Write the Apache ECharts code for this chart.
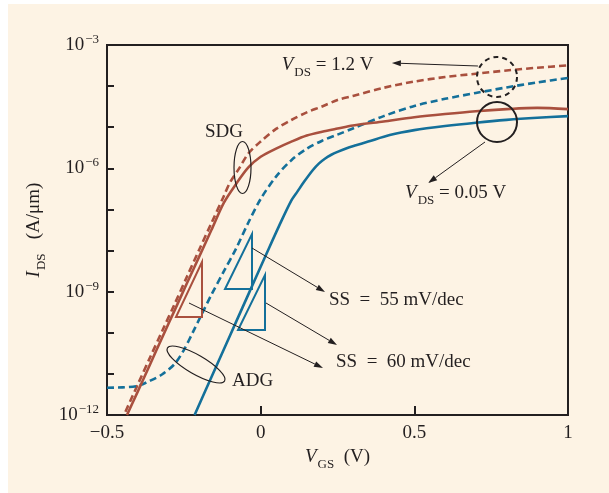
<!DOCTYPE html>
<html>
<head>
<meta charset="utf-8">
<script src="https://cdn.jsdelivr.net/npm/echarts@6/dist/echarts.min.js"></script>
<style>
  html, body { margin: 0; padding: 0; background: #ffffff; }
  #panel { position: absolute; left: 8px; top: 4px; width: 601px; height: 489px; background: #fdf3e4; }
  #chart { position: absolute; left: 0; top: 0; width: 609px; height: 493px; }
</style>
</head>
<body>
<div id="panel"></div>
<div id="chart"></div>
<script>
// Gate voltage V_GS (V) and drain current I_DS (A/µm) for each device / bias

// SDG, V_DS = 0.05 V
const vgsSdgLow = [-0.435, -0.40, -0.36, -0.32, -0.28, -0.24, -0.20, -0.16, -0.12, -0.08, -0.04, 0.00,
  0.05, 0.10, 0.15, 0.20, 0.25, 0.30, 0.40, 0.50, 0.60, 0.70, 0.80, 0.90, 1.00];
const idsSdgLow = [1.0e-12, 3.7e-12, 1.7e-11, 7.8e-11, 3.5e-10, 1.6e-9, 7.1e-9, 3.2e-8, 1.45e-7, 4.17e-7, 1.05e-6, 1.91e-6,
  3.02e-6, 4.47e-6, 6.3e-6, 7.8e-6, 9.3e-6, 1.10e-5, 1.38e-5, 1.74e-5, 2.09e-5, 2.45e-5, 2.75e-5, 2.95e-5, 2.75e-5];

// SDG, V_DS = 1.2 V
const vgsSdgHigh = [-0.44, -0.40, -0.36, -0.32, -0.28, -0.24, -0.20, -0.16, -0.12, -0.10, -0.07, -0.04, 0.00,
  0.05, 0.10, 0.15, 0.20, 0.25, 0.30, 0.40, 0.50, 0.60, 0.70, 0.80, 0.90, 1.00];
const idsSdgHigh = [1.2e-12, 5.5e-12, 2.5e-11, 1.12e-10, 5.0e-10, 2.3e-9, 1.05e-8, 4.7e-8, 2.1e-7, 4.5e-7, 1.0e-6, 2.3e-6, 4.5e-6,
  9.1e-6, 1.5e-5, 2.3e-5, 3.2e-5, 4.6e-5, 5.75e-5, 9.1e-5, 1.29e-4, 1.66e-4, 2.0e-4, 2.4e-4, 2.8e-4, 3.2e-4];

// ADG, V_DS = 0.05 V
const vgsAdgLow = [-0.215, -0.18, -0.14, -0.10, -0.06, -0.02, 0.02, 0.06, 0.10, 0.12, 0.14, 0.17, 0.19, 0.21, 0.23,
  0.25, 0.28, 0.31, 0.35, 0.42, 0.50, 0.60, 0.70, 0.80, 0.90, 1.00];
const idsAdgLow = [1.0e-12, 3.89e-12, 1.82e-11, 8.5e-11, 3.98e-10, 1.86e-9, 8.7e-9, 3.98e-8, 1.66e-7, 2.75e-7, 4.57e-7, 9.1e-7, 1.32e-6, 1.74e-6, 2.14e-6,
  2.51e-6, 3.09e-6, 3.63e-6, 4.47e-6, 6.46e-6, 8.5e-6, 1.07e-5, 1.29e-5, 1.51e-5, 1.70e-5, 1.86e-5];

// ADG, V_DS = 1.2 V
const vgsAdgHigh = [-0.50, -0.45, -0.40, -0.36, -0.32, -0.28, -0.25, -0.22, -0.19, -0.16, -0.12, -0.08, -0.04, 0.00,
  0.05, 0.10, 0.15, 0.20, 0.25, 0.30, 0.40, 0.50, 0.60, 0.70, 0.80, 0.90, 1.00];
const idsAdgHigh = [4.6e-12, 4.7e-12, 5.1e-12, 6.8e-12, 9.8e-12, 1.74e-11, 3.8e-11, 1.05e-10, 3.0e-10, 8.5e-10, 3.1e-9, 1.12e-8, 4.8e-8, 1.8e-7,
  6.3e-7, 1.58e-6, 3.0e-6, 4.7e-6, 6.6e-6, 9.3e-6, 1.86e-5, 3.3e-5, 4.9e-5, 6.8e-5, 9.3e-5, 1.23e-4, 1.58e-4];

// Axis ranges and tick labels
const xTicks = [-0.5, 0, 0.5, 1];
const yMin = 1e-12, yMax = 1e-3;
const yLabelledExponents = [-3, -6, -9, -12];

const SERIF = '"Liberation Serif", "Times New Roman", serif';
const INK = '#231f20';
const RED = '#a9503e';
const BLUE = '#14709a';

const zip = (xs, ys) => xs.map((x, i) => [x, ys[i]]);

const chart = echarts.init(document.getElementById('chart'), null, { renderer: 'canvas' });

const richBase = {
  b: { fontFamily: SERIF, fontSize: 19, color: INK },
  s: { fontFamily: SERIF, fontSize: 13, color: INK, padding: [0, 0, 11, 1] },
  i: { fontFamily: SERIF, fontSize: 19, fontStyle: 'italic', color: INK },
  sub: { fontFamily: SERIF, fontSize: 13, color: INK, padding: [15, 0, 0, 1] }
};

function lineSeries(name, data, color, dashed) {
  return {
    name, type: 'line', data, showSymbol: false, symbol: 'none',
    smooth: 0.3, clip: true,
    lineStyle: { color, width: 2.6, type: dashed ? [7, 4] : 'solid', cap: 'butt', join: 'round' },
    z: 3
  };
}

const option = {
  backgroundColor: 'transparent',
  animation: false,
  grid: { left: 107, right: 41, top: 45, bottom: 78, show: true, borderColor: INK, borderWidth: 2, backgroundColor: 'transparent' },
  xAxis: {
    type: 'value', min: xTicks[0], max: xTicks[xTicks.length - 1], interval: 0.5,
    axisLine: { show: false, onZero: false },
    axisTick: { show: true, inside: true, length: 9, lineStyle: { color: INK, width: 2 } },
    splitLine: { show: false },
    axisLabel: {
      margin: 9, fontFamily: SERIF, fontSize: 19, color: INK,
      formatter: v => (v < 0 ? '\u2212' + Math.abs(v) : String(v))
    },
    name: '{i|V}{sub|GS}{b|  (V)}',
    nameLocation: 'middle', nameGap: 27,
    nameTextStyle: { rich: richBase }
  },
  yAxis: {
    type: 'log', logBase: 10, min: yMin, max: yMax, interval: 1,
    axisLine: { show: false, onZero: false },
    axisTick: { show: true, inside: true, length: 7, lineStyle: { color: INK, width: 2 } },
    splitLine: { show: false },
    minorTick: { show: false },
    axisLabel: {
      margin: 8,
      formatter: v => {
        const e = Math.round(Math.log10(v));
        if (yLabelledExponents.indexOf(e) < 0) return '';
        return '{b|10}{s|\u2212' + (-e) + '}';
      },
      rich: richBase
    },
    name: '{i|I}{sub|DS}{b|   (A/\u03bcm)}',
    nameLocation: 'middle', nameRotate: 90, nameGap: 58,
    nameTextStyle: { rich: richBase }
  },
  series: [
    lineSeries('SDG 1.2 V', zip(vgsSdgHigh, idsSdgHigh), RED, true),
    lineSeries('ADG 1.2 V', zip(vgsAdgHigh, idsAdgHigh), BLUE, true),
    lineSeries('SDG 0.05 V', zip(vgsSdgLow, idsSdgLow), RED, false),
    lineSeries('ADG 0.05 V', zip(vgsAdgLow, idsAdgLow), BLUE, false)
  ]
};

chart.setOption(option);

// Annotation anchors in data space: [V_GS, log10(I_DS)]
const P = (v, e) => chart.convertToPixel({ xAxisIndex: 0, yAxisIndex: 0 }, [v, Math.pow(10, e)]);

function arrow(from, to) {
  const a = P(from[0], from[1]), b = P(to[0], to[1]);
  const dx = b[0] - a[0], dy = b[1] - a[1];
  const len = Math.hypot(dx, dy), ux = dx / len, uy = dy / len;
  const hl = 9, hw = 3;
  const bx = b[0] - ux * hl, by = b[1] - uy * hl;
  return [
    { type: 'line', shape: { x1: a[0], y1: a[1], x2: bx, y2: by }, style: { stroke: INK, lineWidth: 1 }, z: 10 },
    { type: 'polygon', shape: { points: [[b[0], b[1]], [bx - uy * hw, by + ux * hw], [bx + uy * hw, by - ux * hw]] }, style: { fill: INK }, z: 10 }
  ];
}

function label(text, v, e) {
  const p = P(v, e);
  return {
    type: 'text', x: p[0], y: p[1], z: 10,
    style: { text, rich: richBase, fontFamily: SERIF, fontSize: 19, fill: INK, align: 'left', verticalAlign: 'middle' }
  };
}

function slopeTriangle(v1, v2, eTop, eBottom, color) {
  const top = P(v2, eTop), br = P(v2, eBottom), bl = P(v1, eBottom);
  return {
    type: 'polygon', z: 9,
    shape: { points: [top, br, bl] },
    style: { fill: 'none', stroke: color, lineWidth: 2 }
  };
}

function ring(v, e, r, dashed) {
  const p = P(v, e);
  return {
    type: 'circle', z: 10, shape: { cx: p[0], cy: p[1], r },
    style: { fill: 'none', stroke: INK, lineWidth: 2, lineDash: dashed ? [5, 4] : null }
  };
}

function oval(v, e, rx, ry, rotation) {
  const p = P(v, e);
  return {
    type: 'ellipse', z: 10, x: p[0], y: p[1], rotation,
    shape: { cx: 0, cy: 0, rx, ry },
    style: { fill: 'none', stroke: INK, lineWidth: 1.2 }
  };
}

const graphics = [
  ring(0.769, -3.778, 20, true),
  ring(0.769, -4.873, 20, false),
  ...arrow([0.707, -3.511], [0.427, -3.438]),
  ...arrow([0.730, -5.359], [0.545, -6.357]),
  label('{i|V}{sub|DS}{b| = 1.2 V}', 0.0685, -3.486),
  label('{i|V}{sub|DS}{b| = 0.05 V}', 0.4697, -6.612),
  label('{b|SDG}', -0.181, -5.116),
  label('{b|ADG}', -0.093, -11.173),
  label('{b|SS\u2002=\u200255 mV/dec}', 0.2223, -9.203),
  label('{b|SS\u2002=\u200260 mV/dec}', 0.2451, -10.723),
  oval(-0.0591, -5.98, 8.5, 26, 0),
  oval(-0.2104, -10.772, 33, 9.5, -Math.PI / 6),
  slopeTriangle(-0.2755, -0.1909, -8.278, -9.616, RED),
  slopeTriangle(-0.1160, -0.0282, -7.597, -8.935, BLUE),
  slopeTriangle(-0.0737, 0.0141, -8.595, -9.933, BLUE),
  ...arrow([-0.0282, -7.938], [0.2093, -9.008]),
  ...arrow([0.0174, -9.276], [0.2484, -10.297]),
  ...arrow([-0.2332, -9.276], [0.2028, -10.857])
];

chart.setOption({ graphic: graphics });
</script>
</body>
</html>
